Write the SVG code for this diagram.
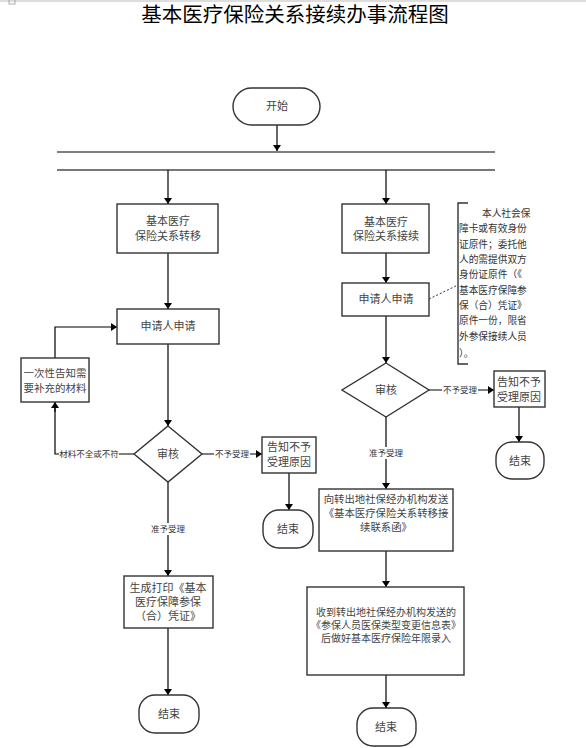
<svg xmlns="http://www.w3.org/2000/svg" width="586" height="748" viewBox="0 0 586 748">
<defs>
<marker id="arr" viewBox="0 0 10 10" refX="10" refY="5" markerWidth="6" markerHeight="8" markerUnits="userSpaceOnUse" orient="auto" preserveAspectRatio="none">
<path d="M0,0 L10,5 L0,10 Z" fill="#000"/>
</marker>
<style>
.box{fill:#fff;stroke:#333;stroke-width:1.4}
.t{font-family:"Liberation Sans","Noto Sans CJK SC",sans-serif;font-size:11px;fill:#444;text-anchor:middle;dominant-baseline:central}
.s{font-family:"Liberation Sans","Noto Sans CJK SC",sans-serif;font-size:9.7px;fill:#333;dominant-baseline:central}
.lbl{font-family:"Liberation Sans","Noto Sans CJK SC",sans-serif;font-size:8.5px;fill:#333;text-anchor:middle;dominant-baseline:central}
.ln{fill:none;stroke:#000;stroke-width:1.2}
.ar{fill:none;stroke:#000;stroke-width:1.2;marker-end:url(#arr)}
</style>
</defs>
<rect x="0" y="0" width="586" height="2" fill="#ddd"/>
<rect x="9" y="-1" width="6" height="5" fill="none" stroke="#999" stroke-width="0.8"/>
<text x="295" y="14" font-family="Liberation Sans,Noto Sans CJK SC,sans-serif" font-size="20.5" text-anchor="middle" dominant-baseline="central" fill="#000">基本医疗保险关系接续办事流程图</text>

<g id="connectors">
<path class="ar" d="M277,125 V151"/>
<path d="M57,152 H495" stroke="#000" stroke-width="1.2"/>
<path d="M57,170 H495" stroke="#777" stroke-width="2"/>
<path class="ar" d="M168,170 V204"/>
<path class="ar" d="M386,170 V204"/>
<path class="ar" d="M168,253 V309"/>
<path class="ar" d="M168,344 V426"/>
<path class="ln" d="M134,454 H55 V402"/>
<path class="ar" d="M55,412 V402"/>
<path class="ar" d="M55,358 V327 H117"/>
<path class="ar" d="M202,454 H262"/>
<path class="ar" d="M289,473 V510"/>
<path class="ar" d="M168,482 V576"/>
<path class="ar" d="M168,628 V695"/>
<path class="ar" d="M386,253 V283"/>
<path class="ar" d="M386,316 V363"/>
<path class="ar" d="M429,390 H494"/>
<path class="ar" d="M519,407 V442"/>
<path class="ar" d="M386,417 V489"/>
<path class="ar" d="M386,551 V587"/>
<path class="ar" d="M386,675 V708"/>
<path d="M429,299 L458,285" fill="none" stroke="#333" stroke-width="1" stroke-dasharray="2,2"/>
<rect x="59" y="448" width="60" height="12" fill="#fff"/>
<text class="lbl" x="89" y="454">材料不全或不符</text>
<rect x="214" y="448" width="36" height="12" fill="#fff"/>
<text class="lbl" x="232" y="454">不予受理</text>
<rect x="150" y="523" width="36" height="12" fill="#fff"/>
<text class="lbl" x="168" y="529">准予受理</text>
<rect x="442" y="384" width="36" height="12" fill="#fff"/>
<text class="lbl" x="460" y="390">不予受理</text>
<rect x="368" y="447" width="36" height="12" fill="#fff"/>
<text class="lbl" x="386" y="453">准予受理</text>
</g>

<g id="start">
<rect class="box" x="233" y="88" width="87" height="37" rx="18.5"/>
<text class="t" x="277" y="106">开始</text>
</g>

<g id="left-transfer">
<rect class="box" x="117" y="204" width="101" height="49"/>
<text class="t" x="168" y="221">基本医疗</text>
<text class="t" x="168" y="236">保险关系转移</text>
</g>

<g id="left-apply">
<rect class="box" x="117" y="309" width="102" height="35"/>
<text class="t" x="168" y="326">申请人申请</text>
</g>

<g id="left-notify-materials">
<rect class="box" x="21" y="358" width="68" height="44"/>
<text class="t" x="55" y="373" style="font-size:10.5px">一次性告知需</text>
<text class="t" x="55" y="388" style="font-size:10.5px">要补充的材料</text>
</g>

<g id="left-review">
<polygon class="box" points="168,426 202,454 168,482 134,454"/>
<text class="t" x="168" y="454">审核</text>
</g>

<g id="left-reject">
<rect class="box" x="262" y="437" width="54" height="36"/>
<text class="t" x="289" y="447">告知不予</text>
<text class="t" x="289" y="462">受理原因</text>
</g>

<g id="left-reject-end">
<rect class="box" x="263" y="510" width="50" height="38" rx="16"/>
<text class="t" x="288" y="529">结束</text>
</g>

<g id="left-print">
<rect class="box" x="124" y="576" width="89" height="52"/>
<text class="t" x="168" y="588">生成打印《基本</text>
<text class="t" x="168" y="602">医疗保障参保</text>
<text class="t" x="168" y="616">（合）凭证》</text>
</g>

<g id="left-end">
<rect class="box" x="139" y="695" width="60" height="38" rx="16"/>
<text class="t" x="169" y="714">结束</text>
</g>

<g id="right-continue">
<rect class="box" x="342" y="204" width="87" height="49"/>
<text class="t" x="386" y="222">基本医疗</text>
<text class="t" x="386" y="236">保险关系接续</text>
</g>

<g id="right-apply">
<rect class="box" x="342" y="283" width="87" height="33"/>
<text class="t" x="386" y="299">申请人申请</text>
</g>

<g id="right-note">
<path d="M468,203 H458 V364 H468" fill="none" stroke="#333" stroke-width="1.4"/>
<text class="s" x="482" y="213">本人社会保</text>
<text class="s" x="459" y="228.5">障卡或有效身份</text>
<text class="s" x="459" y="244">证原件；委托他</text>
<text class="s" x="459" y="259">人的需提供双方</text>
<text class="s" x="459" y="274.5">身份证原件（《</text>
<text class="s" x="459" y="290">基本医疗保障参</text>
<text class="s" x="459" y="305">保（合）凭证》</text>
<text class="s" x="459" y="320.5">原件一份，限省</text>
<text class="s" x="459" y="336">外参保接续人员</text>
<text class="s" x="459" y="353">）。</text>
</g>

<g id="right-review">
<polygon class="box" points="386,363 429,390 386,417 342,390"/>
<text class="t" x="386" y="390">审核</text>
</g>

<g id="right-reject">
<rect class="box" x="494" y="371" width="51" height="36"/>
<text class="t" x="519" y="382">告知不予</text>
<text class="t" x="519" y="397">受理原因</text>
</g>

<g id="right-reject-end">
<rect class="box" x="496" y="442" width="48" height="37" rx="16"/>
<text class="t" x="520" y="461">结束</text>
</g>

<g id="right-send">
<rect class="box" x="319" y="489" width="134" height="62"/>
<text class="t" x="386" y="499" style="font-size:10.4px">向转出地社保经办机构发送</text>
<text class="t" x="386" y="513" style="font-size:10.4px">《基本医疗保险关系转移接</text>
<text class="t" x="386" y="527" style="font-size:10.4px">续联系函》</text>
</g>

<g id="right-receive">
<rect class="box" x="307" y="587" width="157" height="88"/>
<text class="t" x="386" y="612" style="font-size:10px">收到转出地社保经办机构发送的</text>
<text class="t" x="386" y="625" style="font-size:10px">《参保人员医保类型变更信息表》</text>
<text class="t" x="386" y="638" style="font-size:10px">后做好基本医疗保险年限录入</text>
</g>

<g id="right-end">
<rect class="box" x="357" y="708" width="59" height="38" rx="16"/>
<text class="t" x="386" y="727">结束</text>
</g>
</svg>
